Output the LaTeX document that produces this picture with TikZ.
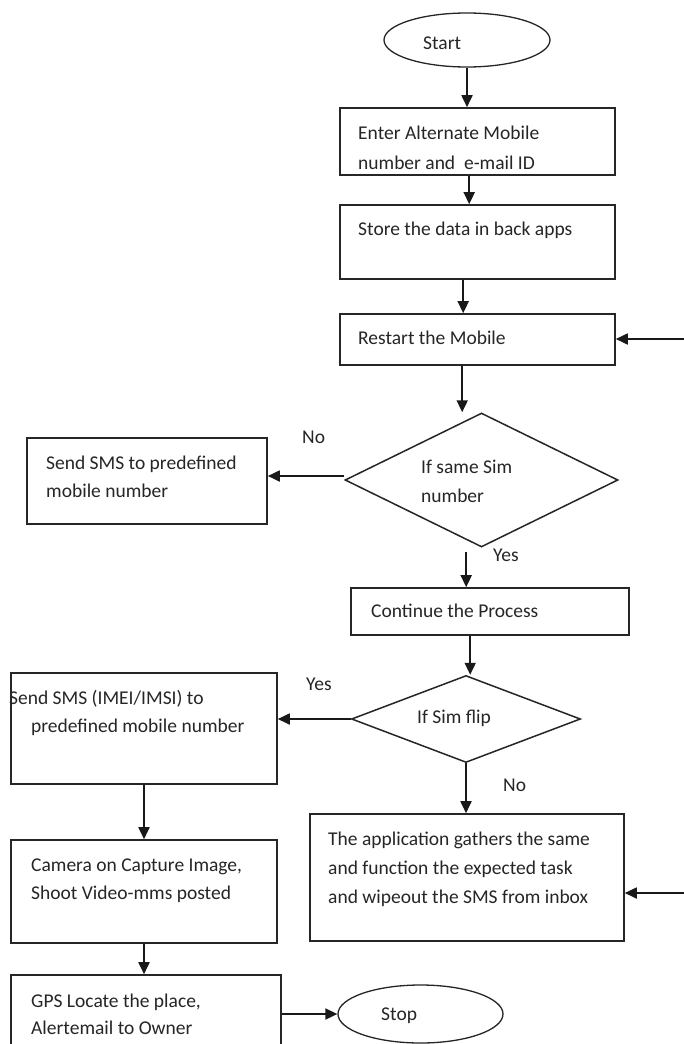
\documentclass[tikz,border=0pt]{standalone}
\usepackage{fontspec}
\setmainfont{Carlito}
\usetikzlibrary{shapes.geometric,arrows.meta,calc}
\begin{document}
\begin{tikzpicture}[x=1pt,y=-1pt,
  box/.style={draw=black!85, line width=1.6pt, rectangle, inner sep=0pt},
  dia/.style={draw=black!85, line width=1.5pt, diamond, inner sep=0pt},
  ell/.style={draw=black!85, line width=1.3pt, ellipse, inner sep=0pt},
  txt/.style={inner sep=0pt, anchor=base west, text=black!85, font=\fontsize{19.5}{23}\selectfont},
  arr/.style={line width=1.8pt, black!90, -{Triangle[length=12pt,width=11pt]}}
]
\useasboundingbox (0,0) rectangle (684,1044);
\fill[white] (0,0) rectangle (684,1044);

% shapes
\node[ell, minimum width=166pt, minimum height=54pt] (start) at (467,40) {};
\node[box, minimum width=275pt, minimum height=67pt] (b1) at (477.5,141.5) {};
\node[box, minimum width=275pt, minimum height=74pt] (b2) at (477.5,242) {};
\node[box, minimum width=275pt, minimum height=51pt] (b3) at (477.5,339.5) {};
\node[dia, minimum width=273pt, minimum height=134pt] (d1) at (481.5,480) {};
\node[box, minimum width=240pt, minimum height=86pt] (sms) at (147,481) {};
\node[box, minimum width=278pt, minimum height=47pt] (cont) at (490,611.5) {};
\node[dia, minimum width=229pt, minimum height=87pt] (d2) at (466,719) {};
\node[box, minimum width=266pt, minimum height=111pt] (imei) at (144,728.5) {};
\node[box, minimum width=314pt, minimum height=127pt] (app) at (467,877.5) {};
\node[box, minimum width=266pt, minimum height=103pt] (cam) at (144,891.5) {};
\node[box, minimum width=270pt, minimum height=85pt] (gps) at (146,1017.5) {};
\node[ell, minimum width=165pt, minimum height=58pt] (stop) at (420.5,1014) {};

% texts
\node[txt] (tstart) at (423,49) {Start};
\node[txt] (t1a) at (358,139) {Enter Alternate Mobile};
\node[txt] (t1b) at (358,169) {number and\ \ e-mail ID};
\node[txt] (t2) at (358,235) {Store the data in back apps};
\node[txt] (t3) at (358,344) {Restart the Mobile};
\node[txt] (td1a) at (421,473) {If same Sim};
\node[txt] (td1b) at (421,502) {number};
\node[txt] (tsmsa) at (46,469) {Send SMS to predefined};
\node[txt] (tsmsb) at (46,497) {mobile number};
\node[txt] (tno1) at (302,443) {No};
\node[txt] (tyes1) at (493,561) {Yes};
\node[txt] (tcont) at (371,617) {Continue the Process};
\node[txt] (tyes2) at (306,690) {Yes};
\node[txt] (td2) at (417,723) {If Sim flip};
\node[txt] (timeia) at (9,704) {Send SMS (IMEI/IMSI) to};
\node[txt] (timeib) at (31,732) {predefined mobile number};
\node[txt] (tno2) at (503,791) {No};
\node[txt] (tappa) at (328,845) {The application gathers the same};
\node[txt] (tappb) at (328,874) {and function the expected task};
\node[txt] (tappc) at (328,903) {and wipeout the SMS from inbox};
\node[txt] (tcama) at (31,871) {Camera on Capture Image,};
\node[txt] (tcamb) at (31,899) {Shoot Video-mms posted};
\node[txt] (tgpsa) at (31,1007) {GPS Locate the place,};
\node[txt] (tgpsb) at (31,1034) {Alertemail to Owner};
\node[txt] (tstop) at (381,1020) {Stop};

% helper coordinates
\coordinate (a1) at ($(b1.south west)+(130,0)$);
\coordinate (a2) at ($(b2.south west)+(124,0)$);
\coordinate (a3) at ($(b3.south west)+(123,0)$);
\coordinate (a4) at ($(cont.north west)+(116,0)$);
\coordinate (a5) at ($(cont.south west)+(120,0)$);
\coordinate (r1) at (684,339);
\coordinate (r2) at (684,893);

% connectors
\draw[arr] (start.south) -- (start.south |- b1.north);
\draw[arr] (a1) -- (a1 |- b2.north);
\draw[arr] (a2) -- (a2 |- b3.north);
\draw[arr] (a3) -- (a3 |- d1.north);
\draw[arr] (r1) -- (b3.east |- r1);
\draw[arr] ($(d1.west)+(0,-4)$) -- (sms.east |- {$(d1.west)+(0,-4)$});
\draw[arr] ($(a4 |- d1.south)+(0,4)$) -- (a4);
\draw[arr] (a5) -- (a5 |- d2.north);
\draw[arr] (d2.west) -- (imei.east |- d2.west);
\draw[arr] (d2.south) -- (d2.south |- app.north);
\draw[arr] (r2) -- (app.east |- r2);
\draw[arr] (imei.south) -- (imei.south |- cam.north);
\draw[arr] (cam.south) -- (cam.south |- gps.north);
\draw[arr] (stop.west -| gps.east) -- (stop.west);
\end{tikzpicture}
\end{document}
